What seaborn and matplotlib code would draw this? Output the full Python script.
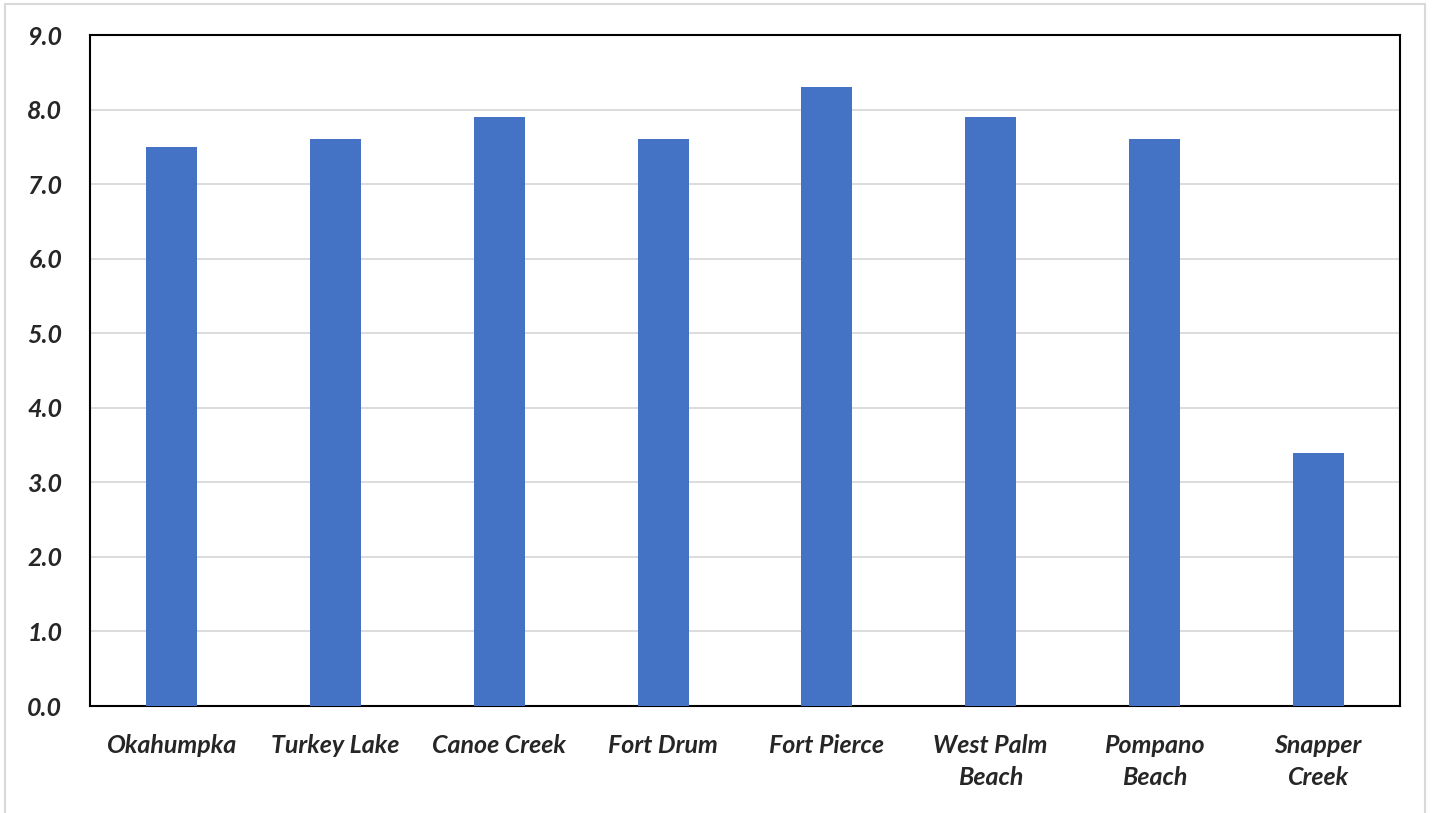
import matplotlib
matplotlib.use("Agg")
import matplotlib.pyplot as plt
import seaborn as sns
import pandas as pd
from matplotlib.patches import Rectangle

categories = ["Okahumpka", "Turkey Lake", "Canoe Creek", "Fort Drum", "Fort Pierce",
              "West Palm\nBeach", "Pompano\nBeach", "Snapper\nCreek"]
values = [7.5, 7.6, 7.9, 7.6, 8.3, 7.9, 7.6, 3.4]
yticks = [0, 1, 2, 3, 4, 5, 6, 7, 8, 9]

sns.set_theme(style="white")
plt.rcParams['font.family'] = ['Lato', 'DejaVu Sans']

df = pd.DataFrame({"site": categories, "value": values})

fig = plt.figure(figsize=(14.36, 8.13), dpi=100)
ax = fig.add_axes([90/1436, 1-706/813, (1400-90)/1436, (706-35)/813])

sns.barplot(data=df, x="site", y="value", color="#4472C4", width=0.31,
            saturation=1, linewidth=0, ax=ax, zorder=3)

font = dict(fontsize=18, fontweight="bold", fontstyle="italic")
ax.set_ylim(0, 9)
ax.set_yticks(yticks)
ax.set_yticklabels([f"{t:.1f}" for t in yticks], **font)
ax.set_xticks(range(len(categories)))
ax.set_xticklabels(categories, linespacing=1.5, **font)
ax.set_xlabel("")
ax.set_ylabel("")
ax.yaxis.grid(True, color="#D9D9D9", linewidth=1.3, zorder=0)
ax.set_axisbelow(True)
for s in ax.spines.values():
    s.set_visible(True)
    s.set_color("black")
    s.set_linewidth(1.5)
ax.tick_params(axis="y", length=0, pad=20)
ax.tick_params(axis="x", length=0, pad=20)

fig.patches.append(Rectangle((5/1436, -0.05), 1420/1436, 1.05 - 4/813, transform=fig.transFigure,
                             fill=False, edgecolor="#D9D9D9", linewidth=1.5))

fig.savefig("out.png", dpi=100)
